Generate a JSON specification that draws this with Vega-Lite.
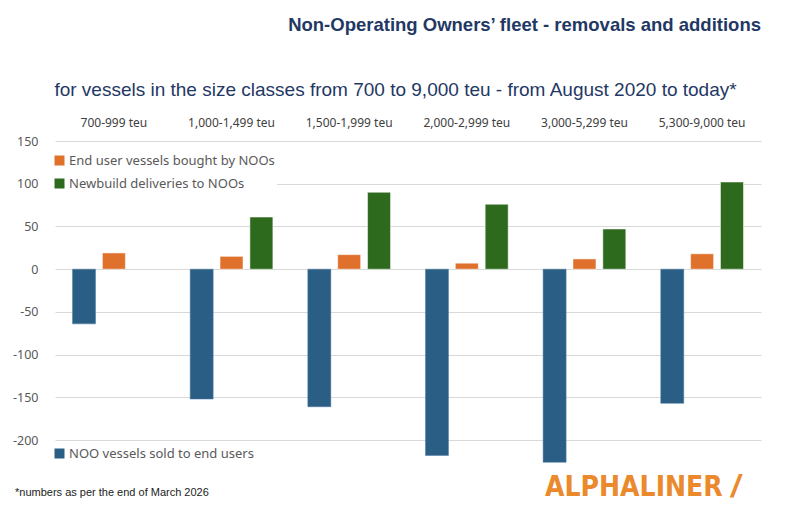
{
  "$schema": "https://vega.github.io/schema/vega-lite/v6.json",
  "width": 706,
  "height": 323,
  "autosize": {"type": "none"},
  "padding": {"left": 55, "top": 141, "right": 28, "bottom": 46},
  "background": "white",
  "title": {
    "text": "Non-Operating Owners’ fleet - removals and additions",
    "anchor": "end",
    "font": "Liberation Sans",
    "fontSize": 18.5,
    "fontWeight": "bold",
    "color": "#1F3864",
    "offset": 46
  },
  "data": {
    "values": [
      {"size": "700-999 teu", "series": "NOO vessels sold to end users", "value": -64},
      {"size": "700-999 teu", "series": "End user vessels bought by NOOs", "value": 19},
      {"size": "1,000-1,499 teu", "series": "NOO vessels sold to end users", "value": -152},
      {"size": "1,000-1,499 teu", "series": "End user vessels bought by NOOs", "value": 15},
      {"size": "1,000-1,499 teu", "series": "Newbuild deliveries to NOOs", "value": 61},
      {"size": "1,500-1,999 teu", "series": "NOO vessels sold to end users", "value": -161},
      {"size": "1,500-1,999 teu", "series": "End user vessels bought by NOOs", "value": 17},
      {"size": "1,500-1,999 teu", "series": "Newbuild deliveries to NOOs", "value": 90},
      {"size": "2,000-2,999 teu", "series": "NOO vessels sold to end users", "value": -218},
      {"size": "2,000-2,999 teu", "series": "End user vessels bought by NOOs", "value": 7},
      {"size": "2,000-2,999 teu", "series": "Newbuild deliveries to NOOs", "value": 76},
      {"size": "3,000-5,299 teu", "series": "NOO vessels sold to end users", "value": -226},
      {"size": "3,000-5,299 teu", "series": "End user vessels bought by NOOs", "value": 12},
      {"size": "3,000-5,299 teu", "series": "Newbuild deliveries to NOOs", "value": 47},
      {"size": "5,300-9,000 teu", "series": "NOO vessels sold to end users", "value": -157},
      {"size": "5,300-9,000 teu", "series": "End user vessels bought by NOOs", "value": 18},
      {"size": "5,300-9,000 teu", "series": "Newbuild deliveries to NOOs", "value": 102}
    ]
  },
  "encoding": {
    "x": {
      "field": "size",
      "type": "nominal",
      "sort": ["700-999 teu", "1,000-1,499 teu", "1,500-1,999 teu", "2,000-2,999 teu", "3,000-5,299 teu", "5,300-9,000 teu"],
      "scale": {"paddingInner": 0.297, "paddingOuter": 0.149},
      "axis": {
        "orient": "top",
        "labelAngle": 0,
        "labelFont": "Noto Sans",
        "labelFontSize": 12,
        "labelColor": "#404040",
        "labelPadding": 12,
        "ticks": false,
        "domain": false,
        "grid": false,
        "title": "for vessels in the size classes from 700 to 9,000 teu - from August 2020 to today*",
        "titleFont": "Liberation Sans",
        "titleFontSize": 19,
        "titleFontWeight": "normal",
        "titleColor": "#1F3864",
        "titlePadding": 17,
        "titleX": 340
      }
    },
    "y": {
      "field": "value",
      "type": "quantitative",
      "scale": {"domain": [-228, 150], "nice": false, "zero": false},
      "axis": {
        "values": [-200, -150, -100, -50, 0, 50, 100, 150],
        "labelExpr": "'' + datum.value",
        "labelFont": "Noto Sans",
        "labelFontSize": 12.5,
        "labelColor": "#595959",
        "labelPadding": 17,
        "ticks": false,
        "domain": false,
        "grid": true,
        "gridColor": "#D9D9D9",
        "gridWidth": 1.2,
        "title": null
      }
    },
    "xOffset": {
      "field": "series",
      "type": "nominal",
      "scale": {
        "domain": ["NOO vessels sold to end users", "End user vessels bought by NOOs", "Newbuild deliveries to NOOs"],
        "paddingInner": 0.23,
        "paddingOuter": 0
      }
    }
  },
  "layer": [
    {
      "transform": [{"filter": "datum.series === 'NOO vessels sold to end users'"}],
      "mark": {"type": "bar", "stroke": "#4A7BA3", "strokeWidth": 0.5},
      "encoding": {
        "color": {
          "field": "series",
          "type": "nominal",
          "scale": {"domain": ["NOO vessels sold to end users"], "range": ["#2B5E84"]},
          "legend": {
            "orient": "none",
            "legendX": -4,
            "legendY": 304,
            "title": null,
            "symbolType": "square",
            "symbolSize": 100,
            "symbolStrokeWidth": 0,
            "labelFont": "Noto Sans",
            "labelFontSize": 13,
            "labelColor": "#595959",
            "labelOffset": 3,
            "labelLimit": 400,
            "padding": 2
          }
        }
      }
    },
    {
      "transform": [{"filter": "datum.series !== 'NOO vessels sold to end users'"}],
      "mark": {"type": "bar", "strokeWidth": 0.5, "stroke": "#ffffff"},
      "encoding": {
        "color": {
          "field": "series",
          "type": "nominal",
          "scale": {"domain": ["End user vessels bought by NOOs", "Newbuild deliveries to NOOs"], "range": ["#E0712C", "#2D6A1E"]},
          "legend": {
            "orient": "none",
            "legendX": -4,
            "legendY": 11,
            "title": null,
            "symbolType": "square",
            "symbolSize": 100,
            "symbolStrokeWidth": 0,
            "labelFont": "Noto Sans",
            "labelFontSize": 13,
            "labelColor": "#595959",
            "labelOffset": 3,
            "labelLimit": 400,
            "rowPadding": 9,
            "padding": 2,
            "fillColor": "white"
          }
        }
      }
    },
    {
      "data": {"values": [{"note": "*numbers as per the end of March 2026"}]},
      "mark": {"type": "text", "align": "left", "baseline": "middle", "font": "Liberation Sans", "fontSize": 11, "color": "#222222"},
      "encoding": {
        "text": {"field": "note"},
        "x": {"value": -40},
        "y": {"value": 352},
        "xOffset": null
      }
    },
    {
      "data": {"values": [{"logo": "ALPHALINER"}]},
      "mark": {"type": "text", "align": "left", "baseline": "middle", "font": "DejaVu Sans Condensed, Liberation Sans, sans-serif", "fontSize": 28, "fontWeight": "bold", "color": "#EA8A2C"},
      "encoding": {
        "text": {"field": "logo"},
        "x": {"value": 490},
        "y": {"value": 347},
        "xOffset": null
      }
    },
    {
      "data": {"values": [{"logo": "/"}]},
      "mark": {"type": "text", "align": "left", "baseline": "middle", "font": "Liberation Sans", "fontSize": 32, "fontWeight": "bold", "fontStyle": "italic", "color": "#EA8A2C"},
      "encoding": {
        "text": {"field": "logo"},
        "x": {"value": 676},
        "y": {"value": 346},
        "xOffset": null
      }
    }
  ],
  "resolve": {"scale": {"color": "independent"}},
  "config": {
    "view": {"stroke": null}
  }
}
